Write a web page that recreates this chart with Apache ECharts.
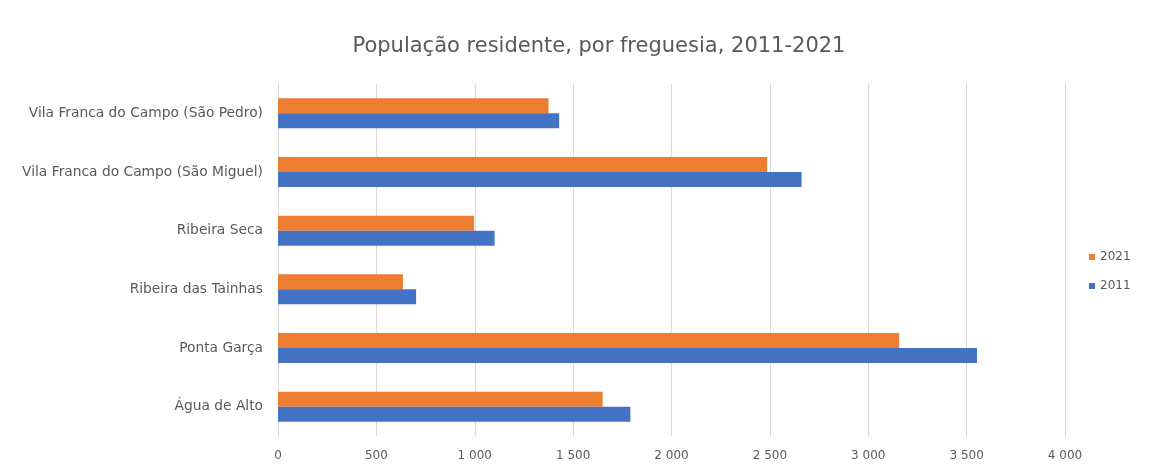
<!DOCTYPE html>
<html>
<head>
<meta charset="utf-8">
<script src="https://cdn.jsdelivr.net/npm/echarts@6/dist/echarts.min.js"></script>
<style>
html,body{margin:0;padding:0;background:#fff;}
#chart{width:1167px;height:470px;}
</style>
</head>
<body>
<div id="chart"></div>
<script>
var categories = ['Água de Alto', 'Ponta Garça', 'Ribeira das Tainhas', 'Ribeira Seca', 'Vila Franca do Campo (São Miguel)', 'Vila Franca do Campo (São Pedro)'];
var values2011 = [1791, 3553, 702, 1101, 2661, 1429];
var values2021 = [1650, 3157, 635, 996, 2486, 1375];
var xTicks = [0, 500, 1000, 1500, 2000, 2500, 3000, 3500, 4000];

var chart = echarts.init(document.getElementById('chart'));
var fontFam = '"DejaVu Sans", sans-serif';
chart.setOption({
  animation: false,
  title: {
    text: 'População residente, por freguesia, 2011-2021',
    left: 594, top: 31, textAlign: 'center',
    textStyle: {fontFamily: fontFam, fontSize: 21, fontWeight: 'normal', color: '#595959'}
  },
  legend: {
    orient: 'vertical', left: 1084, top: 246,
    data: ['2021', '2011'],
    icon: 'rect', itemWidth: 6, itemHeight: 6, itemGap: 17,
    textStyle: {fontFamily: fontFam, fontSize: 12, color: '#595959'}
  },
  grid: {left: 278, right: 102, top: 84, bottom: 34, containLabel: false},
  xAxis: {
    type: 'value', min: 0, max: 4000, interval: 500,
    axisLine: {show: false}, axisTick: {show: false},
    splitLine: {lineStyle: {color: '#d9d9d9'}},
    axisLabel: {
      fontFamily: fontFam, fontSize: 12, color: '#595959', margin: 14,
      formatter: function (v) { return xTicks.indexOf(v) >= 0 ? String(v).replace(/\B(?=(\d{3})+(?!\d))/g, ' ') : ''; }
    }
  },
  yAxis: {
    type: 'category', data: categories,
    axisLine: {show: false}, axisTick: {show: false},
    axisLabel: {fontFamily: fontFam, fontSize: 13.8, color: '#595959', margin: 15}
  },
  series: [
    {name: '2021', type: 'bar', data: values2021, itemStyle: {color: '#ED7D31'}, barGap: '0%', barCategoryGap: '49%'},
    {name: '2011', type: 'bar', data: values2011, itemStyle: {color: '#4472C4'}, barGap: '0%', barCategoryGap: '49%'}
  ]
});
</script>
</body>
</html>
